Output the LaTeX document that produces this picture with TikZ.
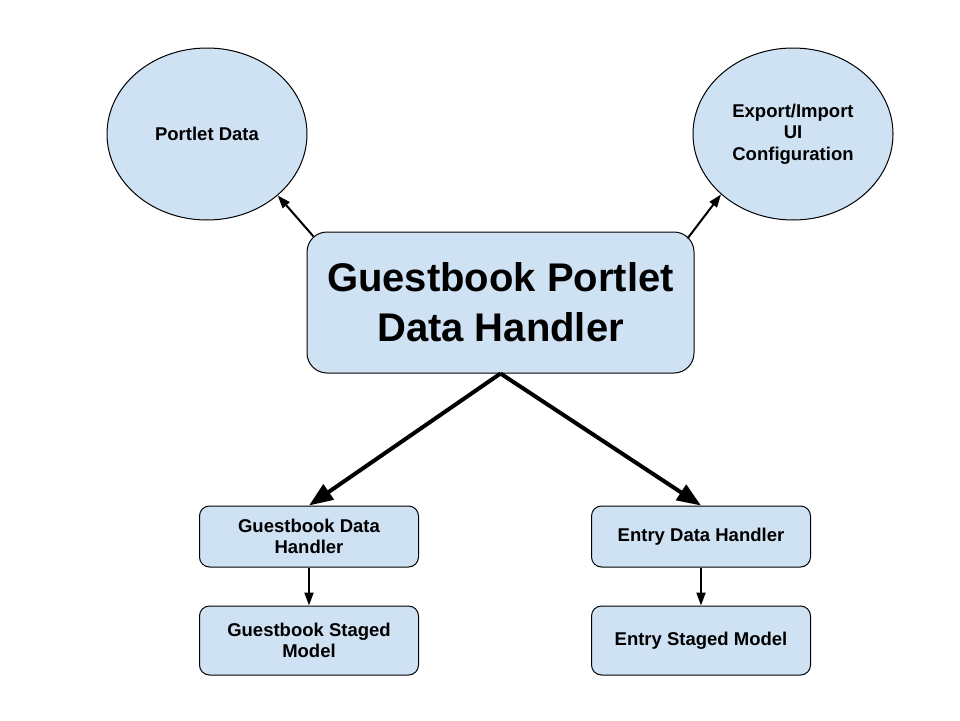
\documentclass[tikz,border=0pt]{standalone}
\usepackage{fontspec}
\setmainfont{Liberation Sans}
\usepackage{tikz}
\usetikzlibrary{arrows.meta,shapes.geometric}
\definecolor{paleblue}{HTML}{CFE2F3}

\begin{document}
\begin{tikzpicture}[x=1pt, y=-1pt]
	\tikzset{blob/.style = {shape=ellipse, draw, fill=paleblue, line width=1pt, inner sep=0pt, align=center, font=\fontsize{18.5}{21.5}\selectfont\bfseries, minimum width=200pt, minimum height=172pt}}
	\tikzset{box/.style = {shape=rectangle, rounded corners=10pt, draw, fill=paleblue, line width=1pt, inner sep=0pt, align=center, font=\fontsize{18.5}{21.5}\selectfont\bfseries, minimum width=219pt}}
	\tikzset{edge/.style = {-{Triangle[length=13pt 0 0, width=9pt 0 0]}, line width=2pt}}
	\tikzset{bigedge/.style = {-{Triangle[length=24pt 0 0, width=18pt 0 0]}, line width=4pt}}
	\useasboundingbox (0, 0) rectangle (960, 720);
	\node[blob] (pd) at (207, 134) {Portlet Data};
	\node[blob] (ui) at (793, 134) {Export/Import\\UI\\Configuration};
	\node[box, rounded corners=20pt, minimum width=387pt, minimum height=141pt, font=\fontsize{40}{50}\selectfont\bfseries] (main) at (500.5, 302.5) {Guestbook Portlet\\Data Handler};
	\node[box, minimum height=61pt] (gdh) at (309, 536.5) {Guestbook Data\\Handler};
	\node[box, minimum height=69pt] (gsm) at (309, 640.5) {Guestbook Staged\\Model};
	\node[box, minimum height=61pt] (edh) at (701, 536.5) {Entry Data Handler};
	\node[box, minimum height=69pt] (esm) at (701, 640.5) {Entry Staged Model};
	\draw[edge] ([xshift=7pt, yshift=-5pt]main.north west) to (pd.-41);
	\draw[edge] ([xshift=-7pt, yshift=-7pt]main.north east) to (ui.-140);
	\draw[bigedge] (main.south) to (gdh.north);
	\draw[bigedge] (main.south) to (edh.north);
	\draw[edge] (gdh) to (gsm);
	\draw[edge] (edh) to (esm);
\end{tikzpicture}
\end{document}
